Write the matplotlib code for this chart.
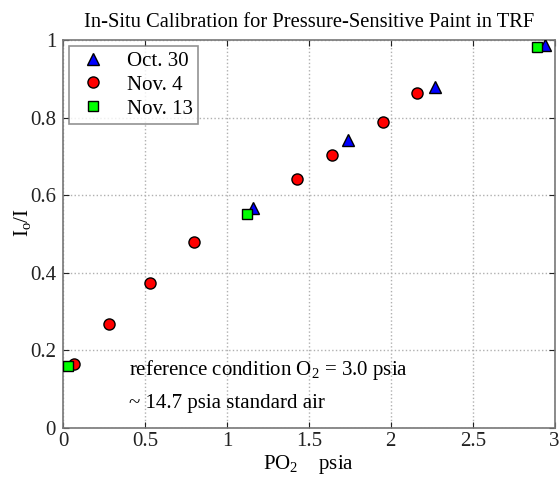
import matplotlib
matplotlib.use("Agg")
import matplotlib.pyplot as plt

plt.rcParams['font.family'] = ['Liberation Serif', 'DejaVu Serif']
plt.rcParams['mathtext.fontset'] = 'custom'
plt.rcParams['mathtext.rm'] = 'Liberation Serif'
plt.rcParams['mathtext.it'] = 'Liberation Serif'

oct30_x = [1.16, 1.74, 2.27, 2.94]
oct30_y = [0.567, 0.742, 0.879, 0.987]
nov4_x = [0.07, 0.28, 0.53, 0.80, 1.43, 1.64, 1.95, 2.16]
nov4_y = [0.165, 0.267, 0.374, 0.480, 0.641, 0.704, 0.789, 0.864]
nov13_x = [0.03, 1.12, 2.89]
nov13_y = [0.161, 0.551, 0.983]

fig = plt.figure(figsize=(5.6, 4.79), dpi=100)
ax = fig.add_axes([0.1125, 0.1065, 0.878, 0.81])

ax.plot(oct30_x, oct30_y, '^', color='#0000ff', mec='black', mew=1.0, ms=8.5, label='Oct. 30', zorder=3)
ax.plot(nov4_x, nov4_y, 'o', color='#ff0000', mec='black', mew=1.0, ms=8, label='Nov. 4', zorder=3)
ax.plot(nov13_x, nov13_y, 's', color='#00ff00', mec='black', mew=1.0, ms=7.5, label='Nov. 13', zorder=3)

ax.set_xlim(0, 3)
ax.set_ylim(0, 1)
ax.set_xticks([0, 0.5, 1, 1.5, 2, 2.5, 3])
ax.set_xticklabels(['0', '0.5', '1', '1.5', '2', '2.5', '3'])
ax.set_yticks([0, 0.2, 0.4, 0.6, 0.8, 1])
ax.set_yticklabels(['0', '0.2', '0.4', '0.6', '0.8', '1'])
ax.grid(True, linestyle=':', color='#b0b0b0', linewidth=1.0)
ax.tick_params(direction='in', labelsize=15, colors='#222222', length=4, top=True, right=True)
ax.tick_params(axis='x', pad=3)
ax.tick_params(axis='y', pad=5)
for s in ax.spines.values():
    s.set_color('#777777')
    s.set_linewidth(1.2)

ax.set_title('In-Situ Calibration for Pressure-Sensitive Paint in TRF', fontsize=14.8, pad=9)
ax.set_xlabel('PO$_2$    psia', fontsize=15, labelpad=1)
ax.set_ylabel('I$_o$/I', fontsize=15)
ax.yaxis.set_label_coords(-0.06, 0.53)

ax.text(0.4, 0.15, 'reference condition O$_2$ = 3.0 psia', fontsize=15, va='center')
ax.text(0.4, 0.062, '~ 14.7 psia standard air', fontsize=15, va='center')

leg = ax.legend(loc='upper left', fontsize=15, frameon=True, fancybox=False,
                edgecolor='#777777', borderaxespad=0.3, handletextpad=0.7,
                labelspacing=0.2, borderpad=0.25, handlelength=1.8)
leg.get_frame().set_linewidth(1.2)

fig.savefig('out.png', dpi=100)
